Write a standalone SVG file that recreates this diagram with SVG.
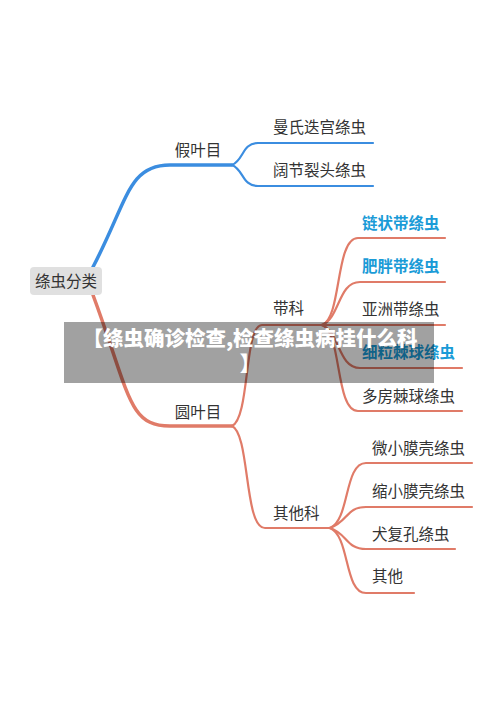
<svg xmlns="http://www.w3.org/2000/svg" width="500" height="707" viewBox="0 0 500 707">
<style>
.t{font-family:"Noto Sans CJK SC","Liberation Sans",sans-serif;font-size:15.5px;fill:#333}
.b{fill:#1a9bd7;font-weight:600}
.bl{fill:none;stroke:#3b8de0;stroke-linecap:round}
.rd{fill:none;stroke:#e07b68;stroke-linecap:round}
.m{stroke-width:3.5}
.c{stroke-width:2.2}
.ban{font-family:"Noto Sans CJK SC","Liberation Sans",sans-serif;font-size:20.5px;font-weight:900;fill:#fff}
</style>
<rect width="500" height="707" fill="#fff"/>
<g id="connectors">
<path class="bl m" d="M93,267 C128,200 128,165 170,165 H232"/>
<path class="bl c" d="M232,165 C244,160 242,143 258,143 H373"/>
<path class="bl c" d="M232,165 C244,170 242,186 258,186 H373"/>
<path class="rd m" d="M93,295 C130,395 128,426 170,426 H232"/>
<path class="rd c" d="M232,426 C250,418 244,325 262,325 H322"/>
<path class="rd c" d="M232,426 C250,434 244,528 265,528 H330"/>
<path class="rd c" d="M322,325 C342,318 335,238 358,238 H445"/>
<path class="rd c" d="M322,325 C340,318 338,282 360,282 H445"/>
<path class="rd c" d="M322,325 H445"/>
<path class="rd c" d="M322,325 C340,332 338,368 360,368 H462"/>
<path class="rd c" d="M322,325 C342,332 335,411 358,411 H462"/>
<path class="rd c" d="M330,528 C350,520 344,463 366,463 H472"/>
<path class="rd c" d="M330,528 C348,522 346,507 366,507 H472"/>
<path class="rd c" d="M330,528 C348,534 346,549 366,549 H455"/>
<path class="rd c" d="M330,528 C350,536 344,593 366,593 H414"/>
</g>
<g id="root"><rect x="30" y="267" width="72" height="28" rx="4" fill="#e0e0e0"/><text class="t" x="66" y="287" text-anchor="middle">绦虫分类</text></g>
<g id="n-jiayemu"><text class="t" x="198" y="156" text-anchor="middle">假叶目</text></g>
<g id="n-manshi"><text class="t" x="273" y="133">曼氏迭宫绦虫</text></g>
<g id="n-kuojie"><text class="t" x="273" y="176">阔节裂头绦虫</text></g>
<g id="n-yuanyemu"><text class="t" x="198" y="418" text-anchor="middle">圆叶目</text></g>
<g id="n-daike"><text class="t" x="273" y="314">带科</text></g>
<g id="n-lianzhuang"><text class="t b" x="362" y="229">链状带绦虫</text></g>
<g id="n-feipang"><text class="t b" x="362" y="272">肥胖带绦虫</text></g>
<g id="n-yazhou"><text class="t" x="362" y="315">亚洲带绦虫</text></g>
<g id="n-xili"><text class="t b" x="362" y="358">细粒棘球绦虫</text></g>
<g id="n-duofang"><text class="t" x="362" y="402">多房棘球绦虫</text></g>
<g id="n-qitake"><text class="t" x="273" y="519">其他科</text></g>
<g id="n-weixiao"><text class="t" x="372" y="454">微小膜壳绦虫</text></g>
<g id="n-suoxiao"><text class="t" x="372" y="497">缩小膜壳绦虫</text></g>
<g id="n-quanfukong"><text class="t" x="372" y="540">犬复孔绦虫</text></g>
<g id="n-qita"><text class="t" x="372" y="582">其他</text></g>
<g id="banner">
<rect x="64" y="322" width="370" height="61" fill="#000" fill-opacity="0.37"/>
<text class="ban" x="250" y="346" text-anchor="middle">【绦虫确诊检查,检查绦虫病挂什么科</text>
<text class="ban" x="250" y="371" text-anchor="middle">】</text>
</g>
</svg>
